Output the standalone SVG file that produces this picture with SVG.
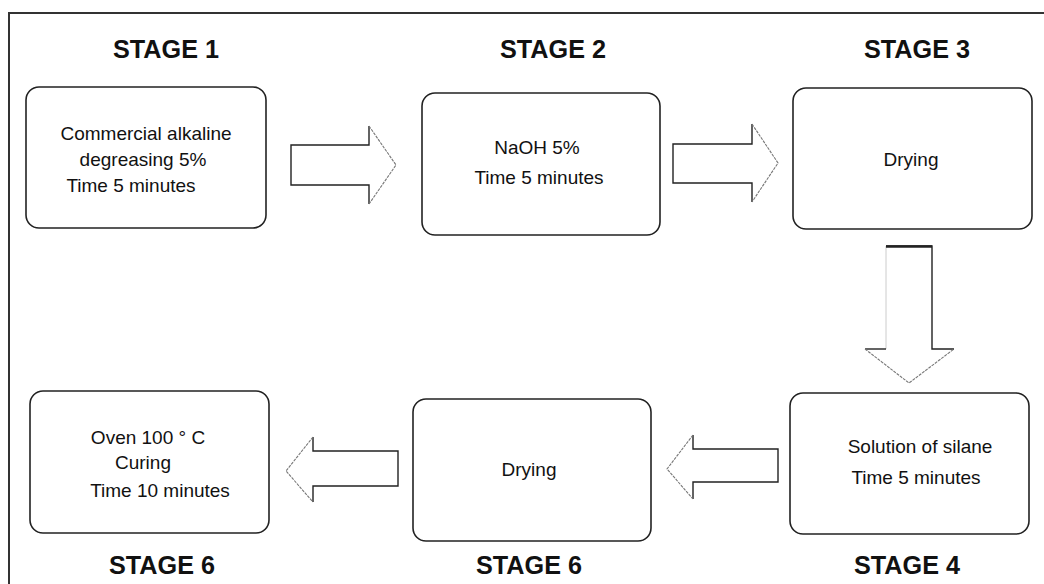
<svg xmlns="http://www.w3.org/2000/svg" width="1044" height="584" viewBox="0 0 1044 584">
<style>
.frame{fill:none;stroke:#333;stroke-width:2}
.box{fill:#fff;stroke:#222;stroke-width:1.6}
.head{font-family:"Liberation Sans",Arial,sans-serif;font-weight:bold;font-size:26px;fill:#111;text-anchor:middle}
.t{font-family:"Liberation Sans",Arial,sans-serif;font-size:19px;fill:#111;text-anchor:middle}
.af{fill:#fff;stroke:none}
.ad{fill:none;stroke:#222;stroke-width:1.4}
.ag{fill:none;stroke:#777;stroke-width:1.1;stroke-dasharray:3 1}
.al{fill:none;stroke:#ccc;stroke-width:1}
</style>
<rect width="1044" height="584" fill="#fff"/>
<polyline class="frame" points="9,584 9,13 1044,13"/>

<g id="labels">
<text class="head" x="166" y="58" textLength="106" lengthAdjust="spacingAndGlyphs">STAGE 1</text>
<text class="head" x="553" y="58" textLength="106" lengthAdjust="spacingAndGlyphs">STAGE 2</text>
<text class="head" x="917" y="58" textLength="106" lengthAdjust="spacingAndGlyphs">STAGE 3</text>
<text class="head" x="162" y="574" textLength="106" lengthAdjust="spacingAndGlyphs">STAGE 6</text>
<text class="head" x="529" y="574" textLength="106" lengthAdjust="spacingAndGlyphs">STAGE 6</text>
<text class="head" x="907" y="574" textLength="106" lengthAdjust="spacingAndGlyphs">STAGE 4</text>
</g>

<g id="stage1">
<rect class="box" x="26" y="87" width="240" height="141" rx="13"/>
<text class="t" x="146" y="140">Commercial alkaline</text>
<text class="t" x="143" y="166">degreasing 5%</text>
<text class="t" x="131" y="192">Time 5 minutes</text>
</g>

<g id="stage2">
<rect class="box" x="422" y="93" width="238" height="142" rx="13"/>
<text class="t" x="537" y="154">NaOH 5%</text>
<text class="t" x="539" y="184">Time 5 minutes</text>
</g>

<g id="stage3">
<rect class="box" x="793" y="88" width="239" height="141" rx="13"/>
<text class="t" x="911" y="166">Drying</text>
</g>

<g id="stage4">
<rect class="box" x="790" y="393" width="239" height="141" rx="13"/>
<text class="t" x="920" y="453">Solution of silane</text>
<text class="t" x="916" y="484">Time 5 minutes</text>
</g>

<g id="stage5">
<rect class="box" x="413" y="399" width="238" height="142" rx="13"/>
<text class="t" x="529" y="476">Drying</text>
</g>

<g id="stage6">
<rect class="box" x="30" y="391" width="239" height="142" rx="13"/>
<text class="t" x="148" y="444">Oven 100 ° C</text>
<text class="t" x="143" y="469">Curing</text>
<text class="t" x="160" y="497">Time 10 minutes</text>
</g>

<g id="connectors">
<polygon class="af" points="291,145 369,145 369,126 396,165 369,204 369,185 291,185"/>
<polyline class="ad" points="369,126 369,145 291,145 291,185 369,185 369,204"/>
<polyline class="ag" points="369,126 396,165 369,204"/>
<polygon class="af" points="673,144 752,144 752,124 778,163 752,202 752,183 673,183"/>
<polyline class="ad" points="752,124 752,144 673,144 673,183 752,183 752,202"/>
<polyline class="ag" points="752,124 778,163 752,202"/>
<polygon class="af" points="886,246 932,246 932,349 954,349 909,383 865,349 886,349"/>
<line class="al" x1="886" y1="246" x2="886" y2="349"/>
<polyline class="ad" points="886,246 932,246 932,349 954,349"/>
<line class="ad" x1="865" y1="349" x2="886" y2="349"/>
<polyline class="ag" points="865,349 909,383 954,349"/>
<line x1="886" y1="246.5" x2="932" y2="246.5" stroke="#222" stroke-width="2.5"/>
<polygon class="af" points="778,449 693,449 693,435 667,469 693,499 693,482 778,482"/>
<polyline class="ad" points="693,435 693,449 778,449 778,482 693,482 693,499"/>
<polyline class="ag" points="693,435 667,469 693,499"/>
<polygon class="af" points="398,451 313,451 313,437 286,471 313,502 313,486 398,486"/>
<polyline class="ad" points="313,437 313,451 398,451 398,486 313,486 313,502"/>
<polyline class="ag" points="313,437 286,471 313,502"/>
</g>
</svg>
